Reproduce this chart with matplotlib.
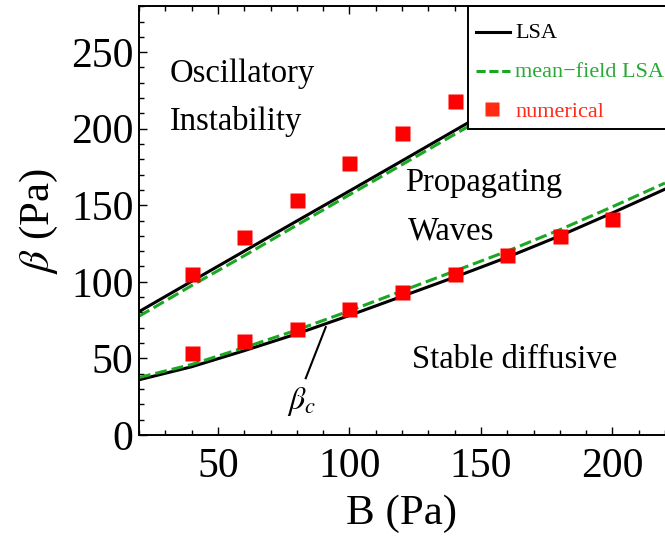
import matplotlib
matplotlib.use("Agg")
import matplotlib.pyplot as plt
from matplotlib.ticker import MultipleLocator
from matplotlib.lines import Line2D
from matplotlib.patches import Rectangle

plt.rcParams['font.family'] = ['Liberation Serif', 'DejaVu Serif']
plt.rcParams['mathtext.fontset'] = 'stix'

# ---- data ----
B_line = [20, 40, 60, 80, 100, 120, 140, 160, 180, 200, 220]
lsa_upper = [80.5, 100.3, 120, 139.7, 159.3, 179, 198.8, 218.5, 238, 258, 278]
mf_upper = [77.5, 97.5, 117, 137, 156.8, 176.5, 196.3, 216, 235.5, 255.5, 275]
lsa_lower = [36, 44.5, 55, 66, 78, 90.5, 103, 116, 130, 145, 160.5]
mf_lower = [37.5, 46, 57, 68.5, 81, 94, 107, 120, 134, 149, 164.5]

B_num_upper = [40, 60, 80, 100, 120, 140]
num_upper = [105, 129.3, 153.7, 177.3, 197.4, 218]
B_num_lower = [40, 60, 80, 100, 120, 140, 160, 180, 200]
num_lower = [53.8, 61.5, 69.3, 82.2, 93.1, 105.3, 117.7, 129.7, 141.3]

legend_labels = ["LSA", "mean\u2212field LSA", "numerical"]

GREEN = '#1aa822'
RED = '#ff0000'
W, H = 665, 539

fig = plt.figure(figsize=(6.65, 5.39), dpi=100)
ax = fig.add_axes([139/W, 1 - 434.9/H, 1.0 - 139/W, (434.9 - 6.2)/H])

ax.plot(B_line, lsa_upper, color='black', lw=2.2, zorder=1.6)
ax.plot(B_line, lsa_lower, color='black', lw=2.2, zorder=1.6)
ax.plot(B_line, mf_upper, color=GREEN, lw=2.2, ls=(0, (3.9, 1.6)), zorder=1.7)
ax.plot(B_line, mf_lower, color=GREEN, lw=2.2, ls=(0, (3.9, 1.6)), zorder=1.7)
ax.plot(B_num_upper, num_upper, ls='none', marker='s', ms=10.8, color=RED, mec='none', zorder=1.8)
ax.plot(B_num_lower, num_lower, ls='none', marker='s', ms=10.8, color=RED, mec='none', zorder=1.8)

ax.set_xlim(20, 220)
ax.set_ylim(0, 280)
ax.xaxis.set_major_locator(MultipleLocator(50))
ax.xaxis.set_minor_locator(MultipleLocator(10))
ax.yaxis.set_major_locator(MultipleLocator(50))
ax.yaxis.set_minor_locator(MultipleLocator(10))
ax.tick_params(which='both', direction='in', top=True, right=False, width=1.0)
ax.tick_params(which='major', length=6)
ax.tick_params(which='minor', length=3.3)
ax.tick_params(axis='x', which='major', labelsize=30, pad=9)
ax.tick_params(axis='y', which='major', labelsize=30, pad=4)
for s in ax.spines.values():
    s.set_linewidth(1.4)
ax.spines['right'].set_visible(False)

ax.set_xlabel("B (Pa)", fontsize=31, labelpad=6)
ax.set_ylabel(r"$\beta$ (Pa)", fontsize=31, labelpad=8)

ax.text(31.8, 230.3, "Oscillatory", fontsize=23.5, va='baseline', ha='left')
ax.text(31.8, 198.9, "Instability", fontsize=23.5, va='baseline', ha='left')
ax.text(121.1, 159.6, "Propagating", fontsize=23.5, va='baseline', ha='left')
ax.text(122.3, 127.5, "Waves", fontsize=23.5, va='baseline', ha='left')
ax.text(123.7, 43.6, "Stable diffusive", fontsize=23.5, va='baseline', ha='left')

ax.plot([83.4, 91.0], [37.0, 70.4], color='black', lw=1.5, zorder=1.6)
ax.text(76.4, 16.8, r"$\beta_c$", fontsize=23, va='baseline', ha='left')

# ---- legend drawn in figure pixel coordinates ----
def fx(px):
    return px / W

def fy(py):
    return 1 - py / H

tf = fig.transFigure
box = Rectangle((fx(468), fy(129)), fx(700) - fx(468), fy(6.2) - fy(129),
                transform=tf, facecolor='white', edgecolor='black', lw=1.4,
                zorder=2.2, clip_on=False)
ax.add_patch(box)
ax.add_line(Line2D([fx(476), fx(510)], [fy(32), fy(32)], transform=tf, color='black',
                   lw=2.2, zorder=2.3, clip_on=False))
ax.add_line(Line2D([fx(476), fx(510)], [fy(71), fy(71)], transform=tf, color=GREEN,
                   lw=2.2, ls=(0, (3.0, 1.2)), zorder=2.3, clip_on=False))
ax.add_line(Line2D([fx(492)], [fy(109.5)], transform=tf, ls='none', marker='s', ms=10,
                   color='#ff2a10', mec='none', zorder=2.3, clip_on=False))
cols = ['black', '#2aa836', '#ff2a1a']
baselines = [38.3, 77.3, 116.7]
for lab, c, b in zip(legend_labels, cols, baselines):
    ax.text(fx(515), fy(b), lab, transform=tf, color=c, fontsize=16,
            va='baseline', ha='left', zorder=2.3, clip_on=False)

fig.savefig("out.png", dpi=100)
